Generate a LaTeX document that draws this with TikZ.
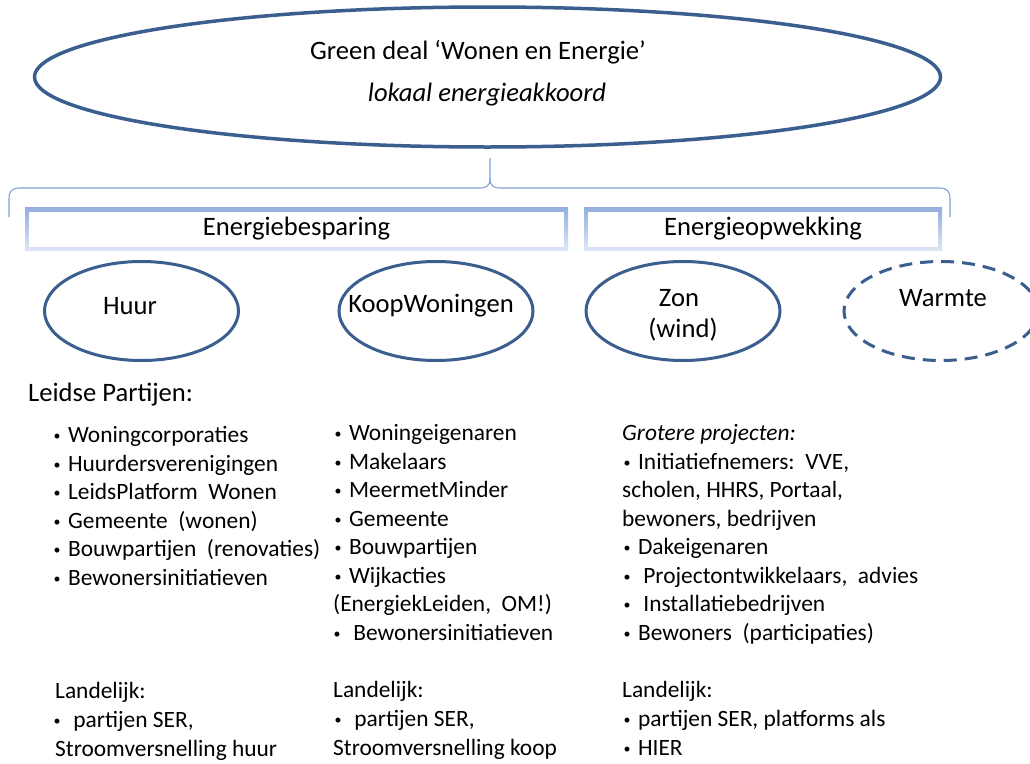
\documentclass[tikz,border=0pt]{standalone}
\usepackage{fontspec}
\setmainfont{Carlito}
\usetikzlibrary{shapes.geometric}
\definecolor{eline}{HTML}{3A5F8F}
\definecolor{braceblue}{HTML}{7FA0D6}
\definecolor{boxtop}{HTML}{93AEDD}
\definecolor{boxbot}{HTML}{DCE5F4}
\newcommand{\bul}{\makebox[11.6pt][c]{\raisebox{1.6pt}{\fontsize{14}{14}\selectfont •}}}
\tikzset{
  x=1pt, y=-1pt,
  oval/.style={ellipse, draw=eline, line width=3pt, inner sep=0pt, minimum width=194pt, minimum height=99pt},
  dashoval/.style={oval, dash pattern=on 13pt off 8pt},
  bigtxt/.style={font=\fontsize{26.6}{32}\selectfont, inner sep=0pt},
  txt/.style={font=\fontsize{23.4}{28}\selectfont, anchor=base west, inner sep=0pt},
  boxouter/.style={rectangle, inner sep=0pt, top color=boxtop, bottom color=boxbot, draw=none},
  boxinner/.style={rectangle, inner sep=0pt, fill=white, draw=none, font=\fontsize{26.6}{32}\selectfont},
  bracestyle/.style={draw=braceblue, line width=1.1pt}
}
\begin{document}
\begin{tikzpicture}
\useasboundingbox (0,0) rectangle (1030,763);
\fill[white] (0,0) rectangle (1030,763);

% main ellipse
\node[ellipse, draw=eline, line width=3.5pt, inner sep=0pt, minimum width=906pt, minimum height=140pt] (deal) at (487.5,77) {};
\node[bigtxt] (dealA) at (478,52) {Green deal ‘Wonen en Energie’};
\node[bigtxt, font=\fontsize{26.6}{32}\selectfont\itshape] (dealB) at (487,95) {lokaal energieakkoord};

% brace
\coordinate (bl) at (9,217);
\coordinate (br) at (950,217);
\coordinate (bt) at (490,158);
\draw[bracestyle] (bl) -- (9,199) .. controls (9,191) and (12,188) .. (20,188) -- (479,188) .. controls (487,188) and (490,186) .. (490,178) -- (bt);
\draw[bracestyle] (490,178) .. controls (490,186) and (493,188) .. (501,188) -- (939,188) .. controls (947,188) and (950,191) .. (950,199) -- (br);

% boxes
\node[boxouter, minimum width=543pt, minimum height=43pt] (espO) at (296.5,228.5) {};
\node[boxinner, minimum width=535pt, minimum height=35pt] (esp) at (296.5,229) {Energiebesparing};
\node[boxouter, minimum width=358pt, minimum height=43pt] (opwO) at (763,228.5) {};
\node[boxinner, minimum width=350pt, minimum height=35pt] (opw) at (763,229) {Energieopwekking};

% small ellipses
\node[oval] (huur) at (141.5,311) {};
\node[bigtxt] (huurT) at (130,306) {Huur};
\node[oval] (koop) at (436,311) {};
\node[bigtxt] (koopT) at (431,306) {KoopWoningen};
\node[oval] (zon) at (683,311) {};
\node[bigtxt] (zonT) at (679,298) {Zon};
\node[bigtxt] (windT) at (683,330) {(wind)};
\node[dashoval] (warm) at (941,311) {};
\node[bigtxt] (warmT) at (943,298) {Warmte};

% column 1
\node[txt, font=\fontsize{26.6}{32}\selectfont] (leid) at (28,401.5) {Leidse Partijen:};
\node[txt] (a1) at (51,442.5) {\bul{} Woningcorporaties};
\node[txt] (a2) at (51,471) {\bul{} Huurdersverenigingen};
\node[txt] (a3) at (51,499.5) {\bul{} LeidsPlatform\ \ Wonen};
\node[txt] (a4) at (51,528) {\bul{} Gemeente\ \ (wonen)};
\node[txt] (a5) at (51,556.5) {\bul{} Bouwpartijen\ \ (renovaties)};
\node[txt] (a6) at (51,585) {\bul{} Bewonersinitiatieven};

% column 2
\node[txt] (b1) at (332,440.5) {\bul{} Woningeigenaren};
\node[txt] (b2) at (332,469) {\bul{} Makelaars};
\node[txt] (b3) at (332,497.5) {\bul{} MeermetMinder};
\node[txt] (b4) at (332,526) {\bul{} Gemeente};
\node[txt] (b5) at (332,554.5) {\bul{} Bouwpartijen};
\node[txt] (b6) at (332,583) {\bul{} Wijkacties};
\node[txt] (b7) at (333,611.5) {(EnergiekLeiden,\ \ OM!)};
\node[txt] (b8) at (331,640) {\bul{}\ \ Bewonersinitiatieven};

% column 3
\node[txt, font=\fontsize{23.4}{28}\selectfont\itshape] (c0) at (622,440.5) {Grotere projecten:};
\node[txt] (c1) at (621,469) {\bul{} Initiatiefnemers:\ \ VVE,};
\node[txt] (c2) at (622,497.5) {scholen, HHRS, Portaal,};
\node[txt] (c3) at (622,526) {bewoners, bedrijven};
\node[txt] (c4) at (621,554.5) {\bul{} Dakeigenaren};
\node[txt] (c5) at (621,583) {\bul{}\ \ Projectontwikkelaars,\ \ advies};
\node[txt] (c6) at (621,611.5) {\bul{}\ \ Installatiebedrijven};
\node[txt] (c7) at (621,640) {\bul{} Bewoners\ \ (participaties)};

% landelijk
\node[txt] (la1) at (55,698.5) {Landelijk:};
\node[txt] (la2) at (51,727.5) {\bul{}\ \ partijen SER,};
\node[txt] (la3) at (55,756.5) {Stroomversnelling huur};
\node[txt] (lb1) at (333,697.5) {Landelijk:};
\node[txt] (lb2) at (332,726.5) {\bul{}\ \ partijen SER,};
\node[txt] (lb3) at (333,755.5) {Stroomversnelling koop};
\node[txt] (lc1) at (622,697.5) {Landelijk:};
\node[txt] (lc2) at (621,726.5) {\bul{} partijen SER, platforms als};
\node[txt] (lc3) at (621,755.5) {\bul{} HIER};
\end{tikzpicture}
\end{document}
